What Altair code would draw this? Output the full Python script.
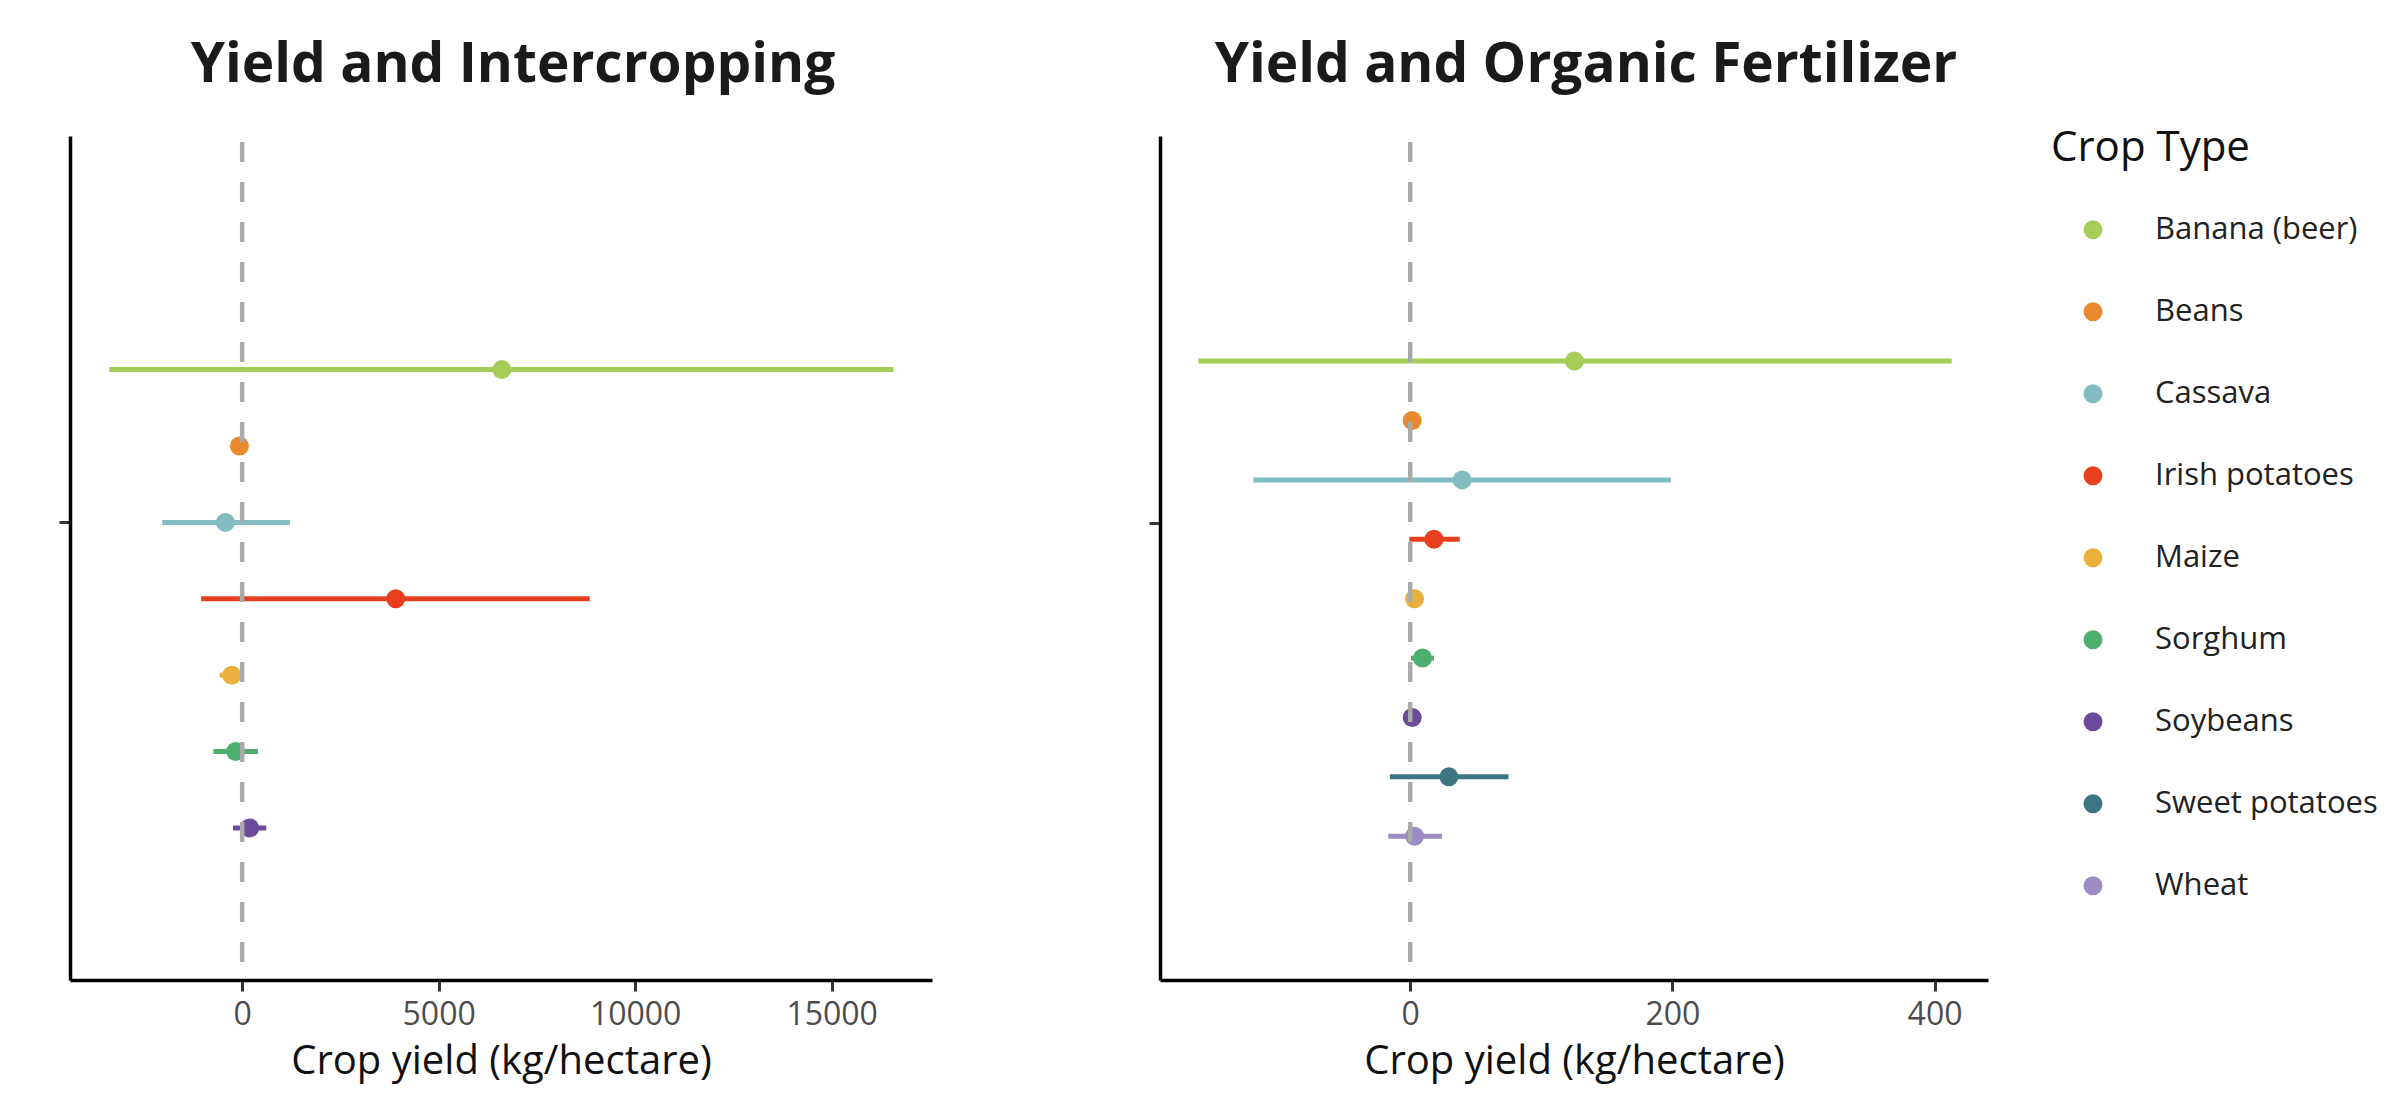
import altair as alt
import pandas as pd

crops = ["Banana (beer)", "Beans", "Cassava", "Irish potatoes", "Maize",
         "Sorghum", "Soybeans", "Sweet potatoes", "Wheat"]
crop_colors = ["#a6cd58", "#ea8a30", "#83bcc0", "#e8401f", "#e9b13b",
               "#4daf6e", "#6b4c9a", "#3d7580", "#9d8bc4"]
legend_title = "Crop Type"

# Panel 1: Intercropping (kg/hectare)
inter_crops = ["Banana (beer)", "Beans", "Cassava", "Irish potatoes", "Maize", "Sorghum", "Soybeans"]
inter_est = [6606, -69, -425, 3908, -264, -166, 191]
inter_lo = [-3381, -150, -2034, -1044, -573, -735, -232]
inter_hi = [16573, 20, 1214, 8845, 40, 402, 613]
inter_xticks = [0, 5000, 10000, 15000]

# Panel 2: Organic fertilizer (kg/hectare)
org_crops = crops
org_est = [125.3, 1.5, 39.6, 18.1, 3.3, 9.4, 1.5, 29.5, 3.3]
org_lo = [-161.6, -3, -119.6, -0.7, -1, 0.6, -2, -15.5, -16.8]
org_hi = [413.1, 6, 198.8, 37.8, 8, 18.1, 5, 75.0, 24.2]
org_xticks = [0, 200, 400]

FONT = "Open Sans"
cscale = alt.Scale(domain=crops, range=crop_colors)


def panel(title, names, est, lo, hi, ydomain, ytick, width, xdomain, xticks):
    df = pd.DataFrame({"crop": names, "est": est, "lo": lo, "hi": hi,
                       "slot": list(range(len(names)))})
    base = alt.Chart(df)
    yenc = alt.Y("slot:Q",
                 scale=alt.Scale(domain=ydomain, reverse=True, nice=False, zero=False),
                 axis=alt.Axis(values=[ytick], labels=False, title=None, grid=False,
                               domainColor="black", domainWidth=3.5,
                               tickColor="#333333", tickWidth=3, tickSize=11,
                               minExtent=62, maxExtent=62))
    xs = alt.Scale(domain=xdomain, nice=False, zero=False)
    xaxis = alt.Axis(values=xticks, format="d", title="Crop yield (kg/hectare)", grid=False,
                     domainColor="black", domainWidth=3.5,
                     tickColor="#333333", tickWidth=3, tickSize=11,
                     labelFont=FONT, labelFontSize=32, labelColor="#4d4d4d",
                     labelPadding=8, titleFont=FONT, titleFontSize=40,
                     titleFontWeight="normal", titleColor="#111111", titlePadding=11)
    bars = base.mark_rule(strokeWidth=5).encode(
        x=alt.X("lo:Q", scale=xs, axis=xaxis),
        x2="hi:Q",
        y=yenc,
        color=alt.Color("crop:N", scale=cscale, legend=None),
    )
    pts = base.mark_circle(size=361, opacity=1).encode(
        x=alt.X("est:Q", scale=xs),
        y=alt.Y("slot:Q"),
        color=alt.Color("crop:N", scale=cscale, legend=None),
    )
    vline = alt.Chart(pd.DataFrame({"zero": [0]})).mark_rule(
        color="#aaaaaa", strokeWidth=4.5, strokeDash=[20, 20], strokeDashOffset=34
    ).encode(x=alt.X("zero:Q", scale=xs))
    return alt.layer(bars, pts, vline).properties(
        width=width, height=844,
        title=alt.TitleParams(title, font=FONT, fontSize=55, fontWeight="bold",
                              color="#1a1a1a", anchor="middle", offset=40, dx=12),
    )


left = panel("Yield and Intercropping", inter_crops, inter_est, inter_lo, inter_hi,
             [-3.058, 7.99], 2, 862, [-4381, 17553], inter_xticks)
right = panel("Yield and Organic Fertilizer", org_crops, org_est, org_lo, org_hi,
              [-3.79, 10.42], 2.72, 828, [-190.9, 440.8], org_xticks)

# Legend panel built from the crop list
leg_df = pd.DataFrame({"crop": crops, "slot": list(range(len(crops)))})
leg_title_df = pd.DataFrame({"label": [legend_title], "slot": [-1]})
ly = alt.Y("slot:Q", scale=alt.Scale(domain=[-1.143, 9.150], reverse=True, nice=False,
                                      zero=False), axis=None)
leg_sym = alt.Chart(leg_df).mark_circle(size=361, opacity=1).encode(
    x=alt.value(42), y=ly, color=alt.Color("crop:N", scale=cscale, legend=None))
leg_lab = alt.Chart(leg_df).mark_text(
    align="left", baseline="middle", font=FONT, fontSize=31, color="#222222"
).encode(x=alt.value(104), y=ly, text="crop:N")
leg_ttl = alt.Chart(leg_title_df).mark_text(
    align="left", baseline="middle", font=FONT, fontSize=42, color="#111111"
).encode(x=alt.value(0), y=ly, text="label:N")
legend_panel = alt.layer(leg_sym, leg_lab, leg_ttl).properties(width=320, height=844)

chart = alt.hconcat(
    alt.hconcat(left, right, spacing=166), legend_panel, spacing=63
).properties(
    padding={"left": 0, "top": 29, "right": 0, "bottom": 11}
).configure_view(stroke=None)

chart.save("out.html", embed_options={"renderer": "svg", "actions": False})
